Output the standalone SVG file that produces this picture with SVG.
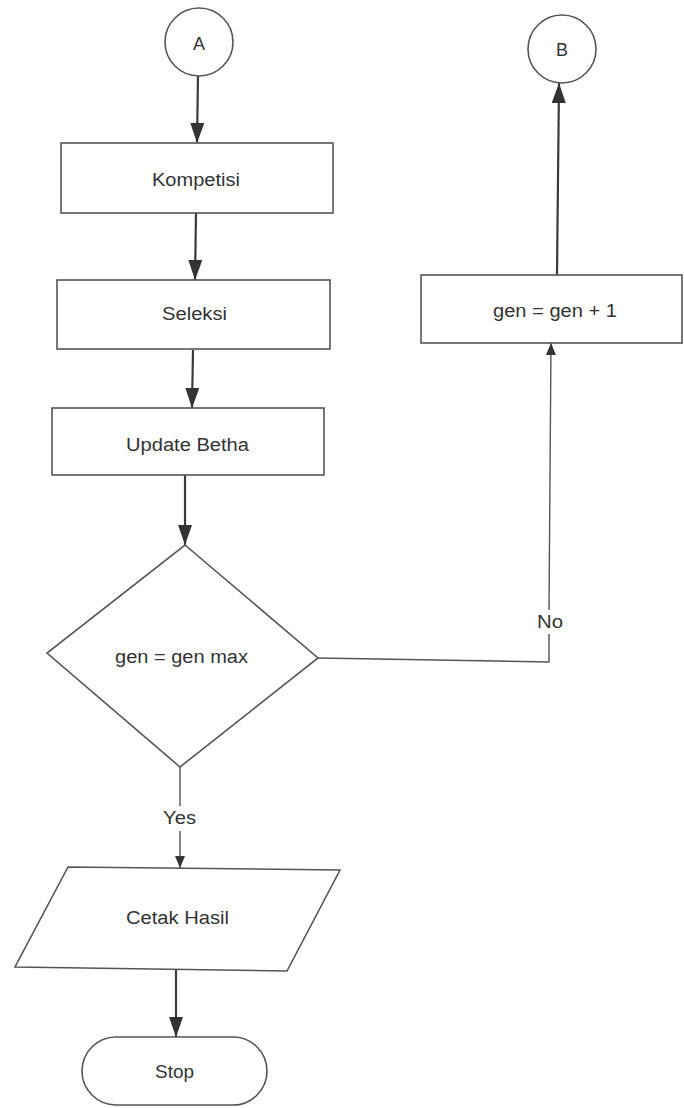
<svg xmlns="http://www.w3.org/2000/svg" width="684" height="1108" viewBox="0 0 684 1108">
<style>
.shape{fill:#fff;stroke:#555;stroke-width:1.6}
.lbl{font-family:"Liberation Sans",Arial,sans-serif;font-size:18px;fill:#333;text-anchor:middle}
.con{fill:none;stroke:#3a3a3a;stroke-width:2.2}
.thin{fill:none;stroke:#555;stroke-width:1.4}
</style>
<defs>
<marker id="ah" markerUnits="userSpaceOnUse" viewBox="0 0 20 14" markerWidth="20" markerHeight="14" refX="20" refY="7" orient="auto">
<path d="M0,0 L20,7 L0,14 z" fill="#333"/>
</marker>
<marker id="ahs" markerUnits="userSpaceOnUse" viewBox="0 0 12 10" markerWidth="12" markerHeight="10" refX="12" refY="5" orient="auto">
<path d="M0,0 L12,5 L0,10 z" fill="#333"/>
</marker>
</defs>
<rect width="684" height="1108" fill="#fff"/>
<g id="connectors">
<path class="con" d="M198,76 L197,143" marker-end="url(#ah)"/>
<path class="con" d="M196,213 L195,280" marker-end="url(#ah)"/>
<path class="con" d="M193,350 L192,408" marker-end="url(#ah)"/>
<path class="con" d="M185,475 L185,545" marker-end="url(#ah)"/>
<path class="thin" d="M180,767 L180,806"/>
<path class="thin" d="M180,831 L180,868" marker-end="url(#ahs)"/>
<path class="con" d="M176,970 L176,1037" marker-end="url(#ah)"/>
<path class="thin" d="M318,658 L549,662 L549,634"/>
<path class="thin" d="M549,610 L551,343" marker-end="url(#ahs)"/>
<path class="con" d="M557,275 L559,83" marker-end="url(#ah)"/>
<text class="lbl" x="550" y="628" textLength="26" lengthAdjust="spacingAndGlyphs">No</text>
<text class="lbl" x="179.5" y="824" textLength="33" lengthAdjust="spacingAndGlyphs">Yes</text>
</g>
<g id="nodeA">
<circle class="shape" cx="199" cy="42" r="34"/>
<text class="lbl" x="199" y="50" font-size="17">A</text>
</g>
<g id="nodeB">
<circle class="shape" cx="562" cy="49" r="34"/>
<text class="lbl" x="562" y="56" font-size="17">B</text>
</g>
<g id="kompetisi">
<rect class="shape" x="61" y="143" width="272" height="70"/>
<text class="lbl" x="196" y="186" textLength="88" lengthAdjust="spacingAndGlyphs">Kompetisi</text>
</g>
<g id="seleksi">
<rect class="shape" x="57" y="280" width="273" height="69"/>
<text class="lbl" x="194.5" y="320" textLength="65" lengthAdjust="spacingAndGlyphs">Seleksi</text>
</g>
<g id="update">
<rect class="shape" x="52" y="408" width="272" height="67"/>
<text class="lbl" x="187.5" y="451" textLength="123" lengthAdjust="spacingAndGlyphs">Update Betha</text>
</g>
<g id="decision">
<polygon class="shape" points="185,545 318,658 180,767 47,653"/>
<text class="lbl" x="181.5" y="663" textLength="133" lengthAdjust="spacingAndGlyphs">gen = gen max</text>
</g>
<g id="genplus">
<rect class="shape" x="421" y="275" width="261" height="68"/>
<text class="lbl" x="555" y="317" textLength="124" lengthAdjust="spacingAndGlyphs">gen = gen + 1</text>
</g>
<g id="cetak">
<polygon class="shape" points="68,867 340,870 287,971 15,967"/>
<text class="lbl" x="177.5" y="924" textLength="103" lengthAdjust="spacingAndGlyphs">Cetak Hasil</text>
</g>
<g id="stop">
<rect class="shape" x="82" y="1037" width="185" height="68" rx="34" ry="34"/>
<text class="lbl" x="174.5" y="1078" textLength="39" lengthAdjust="spacingAndGlyphs">Stop</text>
</g>
</svg>
